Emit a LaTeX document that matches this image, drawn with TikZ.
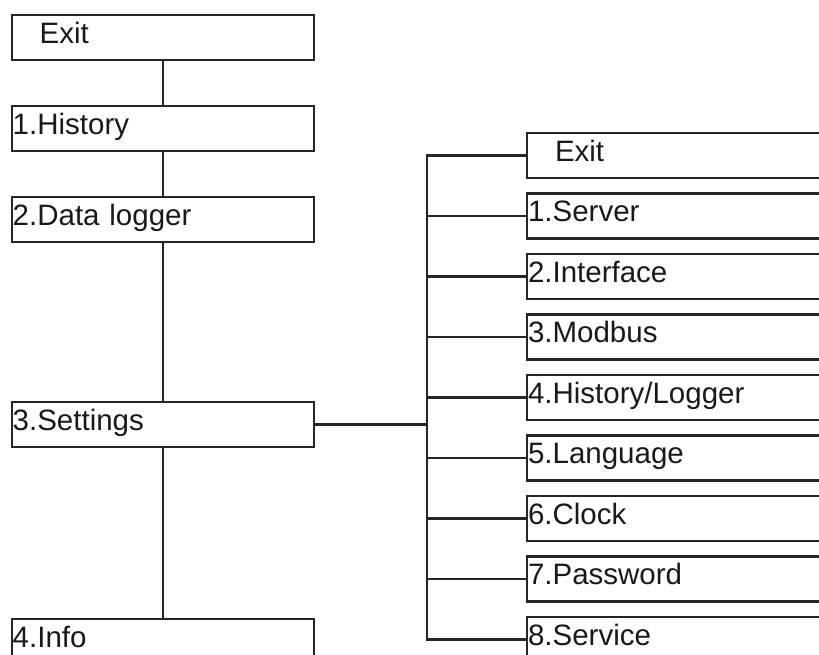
\documentclass[tikz,border=0pt]{standalone}
\usepackage{fontspec}
\setmainfont{Liberation Sans}
\usetikzlibrary{positioning}

\begin{document}
\begin{tikzpicture}[x=1pt, y=1pt,
    line width=2.2pt,
    draw=black!85,
    menubox/.style={draw=black!85,
        text=black!90,
        outer sep=0pt,
        inner xsep=1pt,
        inner ysep=0pt,
        text width=300pt,
        align=left,
        minimum height=45pt,
        text height=21pt,
        text depth=9pt,
        font=\fontsize{29.5}{34}\selectfont}]
    \clip (0,0) rectangle (819,655);
    % Main menu
        \node[menubox,
              anchor=north west] (m0) at (11.7,640) {\hspace*{27pt}Exit};
        \node[menubox,
              below=46pt of m0] (m1) {1.History};
        \node[menubox,
              below=46pt of m1] (m2) {2.Data logger};
        \node[menubox,
              below=160pt of m2] (m3) {3.Settings};
        \node[menubox,
              below=172pt of m3] (m4) {4.Info};
    % Settings menu
        \node[menubox,
              anchor=north west] (s0) at (527,522) {\hspace*{27pt}Exit};
        \node[menubox,
              below=15.5pt of s0] (s1) {1.Server};
        \node[menubox,
              below=15.5pt of s1] (s2) {2.Interface};
        \node[menubox,
              below=15.5pt of s2] (s3) {3.Modbus};
        \node[menubox,
              below=15.5pt of s3] (s4) {4.History/Logger};
        \node[menubox,
              below=15.5pt of s4] (s5) {5.Language};
        \node[menubox,
              below=15.5pt of s5] (s6) {6.Clock};
        \node[menubox,
              below=15.5pt of s6] (s7) {7.Password};
        \node[menubox,
              below=15.5pt of s7] (s8) {8.Service};
        \coordinate[right=113pt of m3.east] (bus);

    % Connectors
        \draw (m0) -- (m1);
        \draw (m1) -- (m2);
        \draw (m2) -- (m3);
        \draw (m3) -- (m4);
        \draw (m3) -- (bus);
        \draw (s0.west) -- (bus |- s0.west) -- (bus |- s8.west) -- (s8.west);
        \foreach \i in {1,...,7}
            \draw (bus |- s\i.west) -- (s\i);
\end{tikzpicture}
\end{document}
